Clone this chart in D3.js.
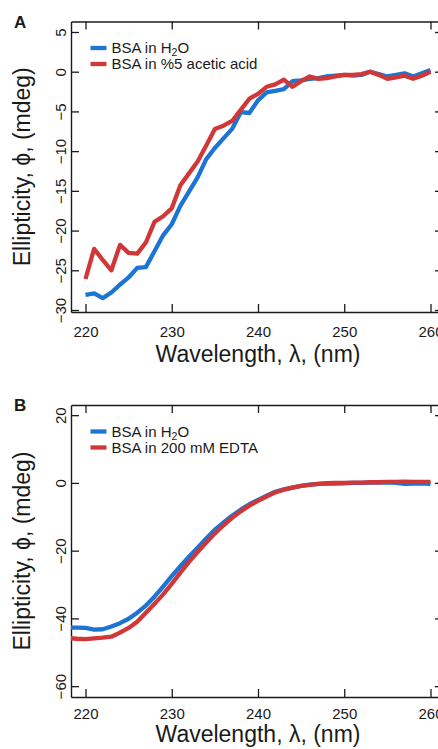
<!DOCTYPE html>
<html>
<head>
<meta charset="utf-8">
<script src="https://cdn.jsdelivr.net/npm/d3@7"></script>
<style>
  html, body { margin: 0; padding: 0; background: #fff; }
  svg { display: block; font-family: "Liberation Sans", Arial, sans-serif; }
</style>
</head>
<body>
<svg id="fig" width="438" height="749"></svg>
<script>
// ---- data ----
const wlA = d3.range(220, 261);
const h2oA = [-28.1, -27.9, -28.5, -27.8, -26.8, -25.9, -24.7, -24.6, -22.6, -20.6,
  -19.2, -16.9, -15.1, -13.3, -11.0, -9.6, -8.4, -7.2, -5.1, -5.2,
  -3.6, -2.6, -2.4, -2.2, -1.2, -1.1, -0.9, -0.8, -0.6, -0.5,
  -0.4, -0.5, -0.4, 0.0, -0.3, -0.6, -0.4, -0.2, -0.6, -0.2, 0.2];
const aceticA = [-26.1, -22.3, -23.7, -25.0, -21.8, -22.8, -22.9, -21.5, -18.9, -18.2,
  -17.2, -14.3, -12.8, -11.3, -9.3, -7.2, -6.8, -6.2, -4.8, -3.4,
  -2.8, -1.9, -1.6, -1.0, -1.9, -1.2, -0.6, -0.9, -0.8, -0.6,
  -0.4, -0.4, -0.3, 0.0, -0.4, -0.9, -0.7, -0.5, -0.9, -0.5, 0.0];

const wlB = d3.range(218, 261);
const h2oB = [-42.7, -42.7, -42.8, -43.3, -43.2, -42.4, -41.4, -40.1, -38.3, -36.2,
  -33.6, -30.6, -27.5, -24.6, -21.8, -19.1, -16.4, -13.8, -11.7, -9.7,
  -7.9, -6.3, -5.0, -3.8, -2.6, -1.9, -1.4, -0.9, -0.5, -0.3,
  -0.2, -0.2, -0.1, 0.0, 0.0, 0.1, 0.1, 0.2, 0.0, -0.3, -0.2, -0.1, -0.3];
const edtaB = [-45.8, -46.0, -46.1, -45.9, -45.7, -45.4, -44.2, -42.8, -41.0, -38.3,
  -35.7, -32.9, -29.8, -26.5, -23.3, -20.4, -17.6, -14.9, -12.5, -10.3,
  -8.4, -6.7, -5.3, -4.0, -2.8, -2.0, -1.4, -0.9, -0.6, -0.3,
  -0.1, 0.0, 0.0, 0.1, 0.1, 0.2, 0.2, 0.3, 0.3, 0.4, 0.3, 0.3, 0.3];

const xTicks = [220, 230, 240, 250, 260];
const yTicksA = [5, 0, -5, -10, -15, -20, -25, -30];
const yTicksB = [20, 0, -20, -40, -60];

const BLUE = '#1c74d4', RED = '#d23737', INK = '#1a1a1a';

const svg = d3.select('#fig');

function panel(cfg) {
  const { top, bottom, left, right } = cfg;
  const x = d3.scaleLinear().domain([218.32, 261.45]).range([left, right]);
  const y = d3.scaleLinear().domain(cfg.yDomain).range([bottom, top]);
  const g = svg.append('g');

  const clipId = 'clip' + cfg.label;
  g.append('clipPath').attr('id', clipId).append('rect')
    .attr('x', left).attr('y', top).attr('width', right - left).attr('height', bottom - top);

  const styleAxis = sel => {
    sel.selectAll('.domain').attr('stroke', INK).attr('stroke-width', 1.4);
    sel.selectAll('.tick line').attr('stroke', INK).attr('stroke-width', 1.3);
    sel.selectAll('text').attr('fill', INK).attr('font-size', 15)
      .attr('font-family', '"Liberation Sans", Arial, sans-serif');
  };

  // bottom
  g.append('g').attr('transform', `translate(0,${bottom})`)
    .call(d3.axisBottom(x).tickValues(xTicks).tickSize(-8).tickSizeOuter(0)
      .tickPadding(cfg.xLabelGap).tickFormat(d3.format('d')))
    .call(styleAxis);
  // top
  g.append('g').attr('transform', `translate(0,${top})`)
    .call(d3.axisTop(x).tickValues(xTicks).tickSize(-8).tickSizeOuter(0).tickFormat(''))
    .call(styleAxis);
  // left
  const la = g.append('g').attr('transform', `translate(${left},0)`)
    .call(d3.axisLeft(y).tickValues(cfg.yTicks).tickSize(-8).tickSizeOuter(0).tickFormat(d3.format('d')))
    .call(styleAxis);
  la.selectAll('.tick text')
    .attr('x', null).attr('dy', null).attr('text-anchor', 'middle')
    .attr('transform', 'translate(-5,0) rotate(-90)');
  // right
  g.append('g').attr('transform', `translate(${right},0)`)
    .call(d3.axisRight(y).tickValues(cfg.yTicks).tickSize(-8).tickSizeOuter(0).tickFormat(''))
    .call(styleAxis);

  // curves
  const line = d3.line().x(d => x(d[0])).y(d => y(d[1]));
  const lines = g.append('g').attr('clip-path', `url(#${clipId})`);
  cfg.series.forEach(s => {
    lines.append('path')
      .datum(cfg.wl.map((w, i) => [w, s.values[i]]))
      .attr('d', line).attr('fill', 'none').attr('stroke', s.color)
      .attr('stroke-width', 4.3).attr('stroke-linejoin', 'round').attr('stroke-linecap', 'butt');
  });

  // legend
  cfg.series.forEach((s, i) => {
    const ly = top + 26.5 + i * 16;
    g.append('line').attr('x1', 90.5).attr('x2', 106.5).attr('y1', ly).attr('y2', ly)
      .attr('stroke', s.color).attr('stroke-width', 4.3);
    const t = g.append('text').attr('x', 111.5).attr('y', ly + 5.3)
      .attr('font-size', 15).attr('fill', INK);
    s.name.forEach(p => {
      const ts = t.append('tspan').text(p.t);
      if (p.sub) ts.attr('font-size', 10.5).attr('dy', 3);
      else if (p.after) ts.attr('dy', -3);
    });
  });

  // titles
  svg.append('text').attr('x', 258).attr('y', cfg.titleY)
    .attr('text-anchor', 'middle').attr('font-size', 23).attr('fill', INK)
    .text('Wavelength,  λ, (nm)');
  svg.append('text')
    .attr('transform', `translate(30,${(top + bottom) / 2}) rotate(-90)`)
    .attr('text-anchor', 'middle').attr('font-size', 23).attr('fill', INK)
    .text('Ellipticity, ϕ, (mdeg)');
  svg.append('text').attr('x', 14).attr('y', top + 6)
    .attr('font-size', 17).attr('font-weight', 'bold').attr('fill', INK)
    .text(cfg.label);
}

const h2oName = [{ t: 'BSA in H' }, { t: '2', sub: true }, { t: 'O', after: true }];

panel({
  label: 'A', top: 21.5, bottom: 312, left: 71, right: 443,
  yDomain: [-30.25, 6.32], yTicks: yTicksA, wl: wlA, xLabelGap: 14, titleY: 362,
  series: [
    { name: h2oName, values: h2oA, color: BLUE },
    { name: [{ t: 'BSA in %5 acetic acid' }], values: aceticA, color: RED }
  ]
});

panel({
  label: 'B', top: 405, bottom: 697, left: 71, right: 443,
  yDomain: [-63.2, 23.0], yTicks: yTicksB, wl: wlB, xLabelGap: 11, titleY: 742,
  series: [
    { name: h2oName, values: h2oB, color: BLUE },
    { name: [{ t: 'BSA in 200 mM EDTA' }], values: edtaB, color: RED }
  ]
});
</script>
</body>
</html>
